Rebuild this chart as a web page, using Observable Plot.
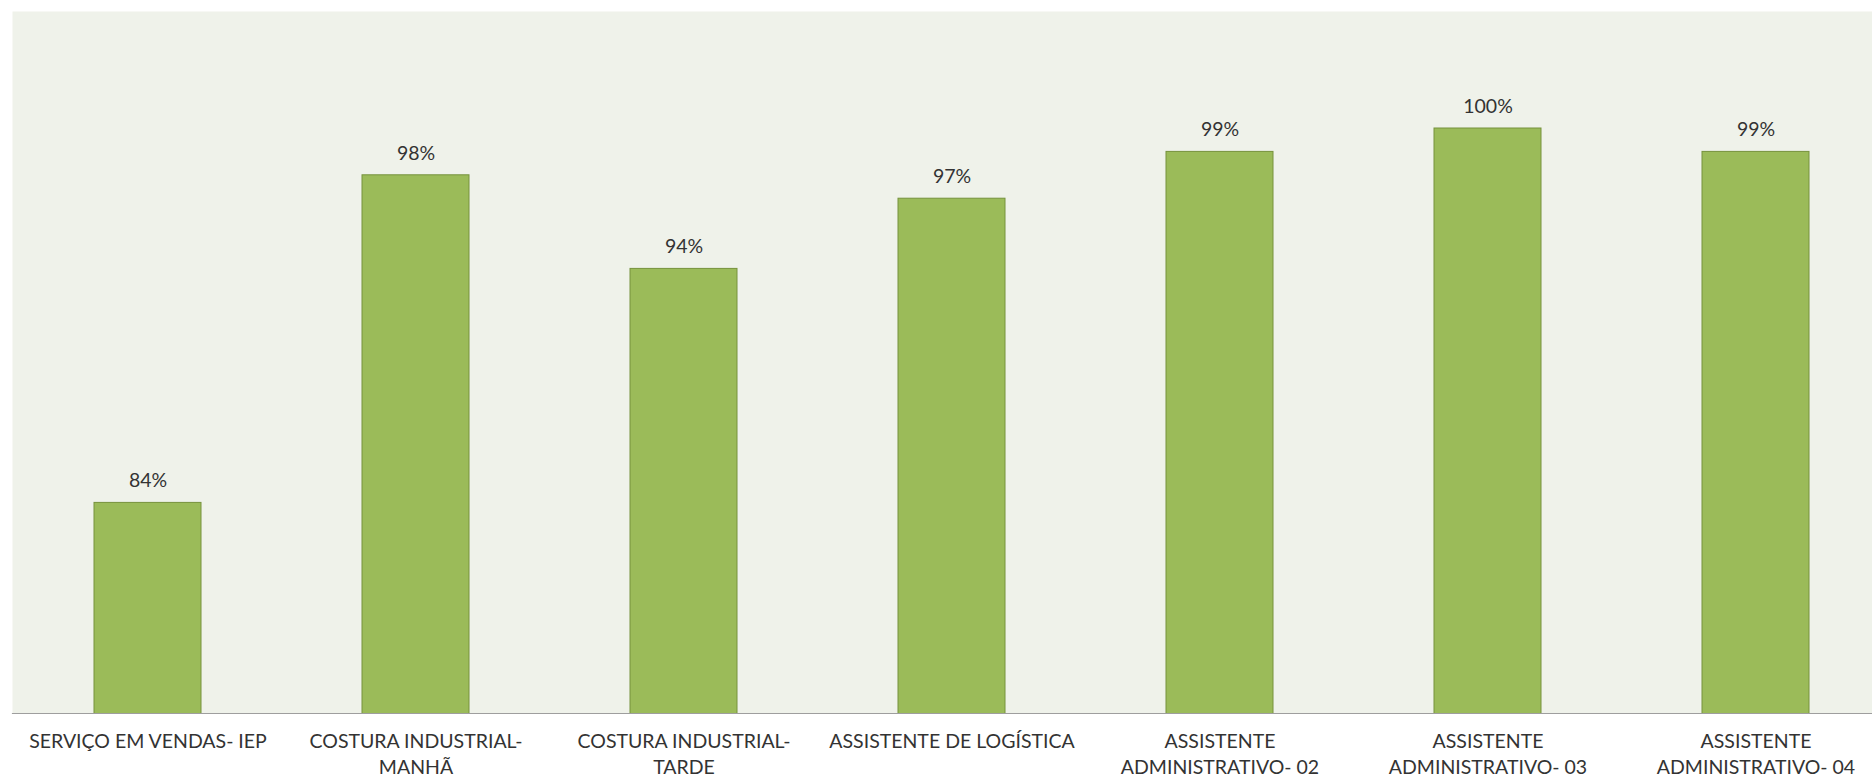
<!DOCTYPE html>
<html>
<head>
<meta charset="utf-8">
<script src="https://cdn.jsdelivr.net/npm/d3@7"></script>
<script src="https://cdn.jsdelivr.net/npm/@observablehq/plot@0.6"></script>
<style>
  html, body { margin: 0; padding: 0; background: #ffffff; overflow: hidden; }
  #chart svg { display: block; }
</style>
</head>
<body>
<div id="chart"></div>
<script>
const categories = [
  "SERVIÇO EM VENDAS- IEP",
  "COSTURA INDUSTRIAL- MANHÃ",
  "COSTURA INDUSTRIAL- TARDE",
  "ASSISTENTE DE LOGÍSTICA",
  "ASSISTENTE ADMINISTRATIVO- 02",
  "ASSISTENTE ADMINISTRATIVO- 03",
  "ASSISTENTE ADMINISTRATIVO- 04"
];
const tickLabels = [
  "SERVIÇO EM VENDAS- IEP",
  "COSTURA INDUSTRIAL-\nMANHÃ",
  "COSTURA INDUSTRIAL-\nTARDE",
  "ASSISTENTE DE LOGÍSTICA",
  "ASSISTENTE\nADMINISTRATIVO- 02",
  "ASSISTENTE\nADMINISTRATIVO- 03",
  "ASSISTENTE\nADMINISTRATIVO- 04"
];
const values = [84, 98, 94, 97, 99, 100, 99];
const yDomain = [75, 105];

const data = categories.map((c, i) => ({category: c, value: values[i], label: tickLabels[i]}));
const labelOf = new Map(categories.map((c, i) => [c, tickLabels[i]]));

const FONT = "Lato, 'Noto Sans', sans-serif";
const W = 1872, H = 781;

const chart = Plot.plot({
  width: W,
  height: H,
  marginTop: 11,
  marginLeft: 12,
  marginRight: 0,
  marginBottom: 68,
  style: {background: "#ffffff", fontFamily: FONT, overflow: "hidden"},
  x: {type: "band", domain: categories, range: [11.7, 1891.6], paddingInner: 0.6, paddingOuter: 0.3, axis: null, label: null},
  y: {domain: yDomain, axis: null, label: null},
  marks: [
    Plot.frame({fill: "#eff2ea", stroke: null}),
    Plot.barY(data, {x: "category", y: "value", fill: "#9bbb59", stroke: "#76923c", strokeWidth: 1, clip: true}),
    Plot.text(data, {x: "category", y: "value", text: d => `${d.value}%`, dy: -22, lineAnchor: "middle",
      fontSize: 19.5, fill: "#333333", fontFamily: FONT}),
    Plot.frame({anchor: "bottom", stroke: "#9e9e9e", strokeWidth: 1.2}),
    Plot.axisX({domain: categories, label: null, tickSize: 0, tickPadding: 16, fontSize: 19.5, lineHeight: 1.33,
      tickFormat: c => labelOf.get(c), fill: "#333333", fontFamily: FONT, lineWidth: 100, textOverflow: null})
  ]
});
document.getElementById("chart").appendChild(chart);
</script>
</body>
</html>
